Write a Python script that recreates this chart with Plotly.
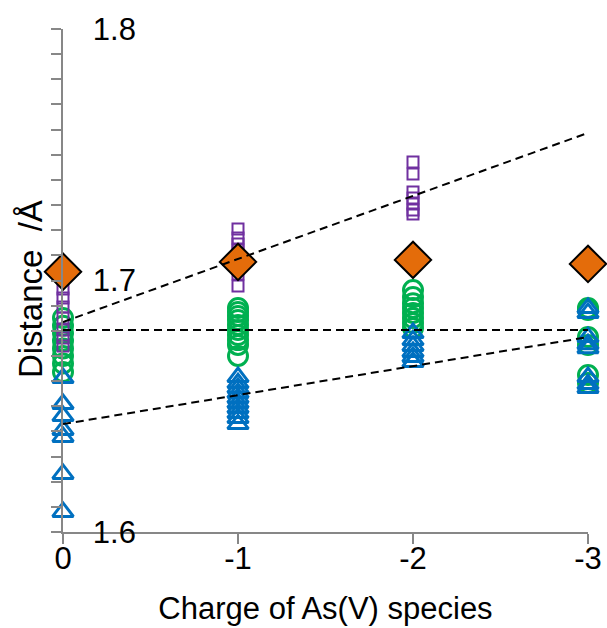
import plotly.graph_objects as go

# Charge states on the x axis and their printed labels
charges = [0, -1, -2, -3]
charge_labels = ["0", "-1", "-2", "-3"]

# Distance ticks (Å)
dist_ticks = [1.6, 1.7, 1.8]
dist_tick_labels = ["1.6", "1.7", "1.8"]

# Open purple squares
square_charge = [0] * 7 + [-1] * 9 + [-2] * 7
square_dist = [1.6966, 1.6930, 1.6895, 1.6851, 1.6803, 1.6771, 1.6740,
               1.7205, 1.7169, 1.7145, 1.7121, 1.7097, 1.7074, 1.7050, 1.7026, 1.6978,
               1.7471, 1.7423, 1.7352, 1.7328, 1.7304, 1.7280, 1.7264]

# Open green circles
circle_charge = [0] * 8 + [-1] * 10 + [-2] * 8 + [-3] * 6
circle_dist = [1.6851, 1.6820, 1.6790, 1.6760, 1.6730, 1.6700, 1.6670, 1.6636,
               1.6891, 1.6875, 1.6859, 1.6843, 1.6823, 1.6803, 1.6783, 1.6763, 1.6744, 1.6700,
               1.6962, 1.6934, 1.6910, 1.6891, 1.6871, 1.6851, 1.6831, 1.6811,
               1.6891, 1.6883, 1.6775, 1.6744, 1.6624, 1.6592]

# Open blue triangles
triangle_charge = [0] * 7 + [-1] * 10 + [-2] * 6 + [-3] * 8
triangle_dist = [1.6612, 1.6509, 1.6461, 1.6406, 1.6378, 1.6231, 1.6080,
                 1.6616, 1.6592, 1.6573, 1.6553, 1.6533, 1.6513, 1.6493, 1.6473, 1.6453, 1.6429,
                 1.6791, 1.6763, 1.6740, 1.6716, 1.6696, 1.6676,
                 1.6891, 1.6871, 1.6775, 1.6747, 1.6731, 1.6616, 1.6588, 1.6573]

# Filled orange diamonds, one per charge state
diamond_dist = [1.7035, 1.7074, 1.7082, 1.7066]

# Dashed trend lines, values at charge 0 and charge -3
trend_ends = [0, -3]
trend_upper = [1.6835, 1.7587]
trend_flat = [1.6803, 1.6803]
trend_lower = [1.6429, 1.6775]

AXIS_GREY = "#878787"
FONT = "Liberation Sans, Arial, sans-serif"
FONT_SIZE = 31

fig = go.Figure()

fig.add_trace(go.Scatter(
    x=circle_charge, y=circle_dist, mode="markers", cliponaxis=False,
    marker=dict(symbol="circle-open", size=19, color="#00B050", line=dict(width=3, color="#00B050")),
))
fig.add_trace(go.Scatter(
    x=triangle_charge, y=triangle_dist, mode="markers", cliponaxis=False,
    marker=dict(symbol="triangle-up-open", size=18, color="#0070C0", line=dict(width=3, color="#0070C0")),
))
fig.add_trace(go.Scatter(
    x=square_charge, y=square_dist, mode="markers", cliponaxis=False,
    marker=dict(symbol="square-open", size=11, color="#7030A0", line=dict(width=2, color="#7030A0")),
))
fig.add_trace(go.Scatter(
    x=charges, y=diamond_dist, mode="markers", cliponaxis=False,
    marker=dict(symbol="diamond", size=28, color="#E46C0A", line=dict(width=2, color="black")),
))

for trend in (trend_upper, trend_flat, trend_lower):
    fig.add_trace(go.Scatter(
        x=trend_ends, y=trend, mode="lines", cliponaxis=False,
        line=dict(color="black", width=2, dash="8px,5px"),
    ))

fig.update_layout(
    width=607, height=628,
    margin=dict(l=63, r=19, t=29, b=96),
    plot_bgcolor="white", paper_bgcolor="white",
    showlegend=False,
    font=dict(family=FONT, size=FONT_SIZE, color="black"),
)

fig.update_xaxes(
    range=[0, -3], automargin=False,
    tickvals=charges, ticktext=charge_labels,
    showline=True, linecolor=AXIS_GREY, linewidth=2,
    ticks="outside", ticklen=10, tickwidth=2, tickcolor=AXIS_GREY,
    ticklabelstandoff=-12,
    showgrid=False, zeroline=False,
    tickfont=dict(color="black"),
    title=dict(text="Charge of As(V) species", standoff=22, font=dict(size=FONT_SIZE, color="black")),
)

fig.update_yaxes(
    range=[1.6, 1.8], automargin=False,
    tickvals=dist_ticks, ticktext=dist_tick_labels,
    showline=True, linecolor=AXIS_GREY, linewidth=2,
    ticks="outside", ticklen=10, tickwidth=2, tickcolor=AXIS_GREY,
    minor=dict(tick0=1.6, dtick=0.01, ticks="outside", ticklen=10, tickwidth=2, tickcolor=AXIS_GREY),
    ticklabelposition="inside", ticklabelstandoff=33, ticklabeloverflow="allow",
    tickfont=dict(color="black"),
    showgrid=False, zeroline=False,
)

# Vertical axis title, set a little below the middle of the axis
fig.add_annotation(
    text="Distance  /Å", textangle=-90,
    xref="paper", x=0, xshift=-33, xanchor="center",
    yref="paper", y=0.483, yanchor="middle",
    showarrow=False, font=dict(family=FONT, size=33, color="black"),
)

fig.write_html("out.html")
